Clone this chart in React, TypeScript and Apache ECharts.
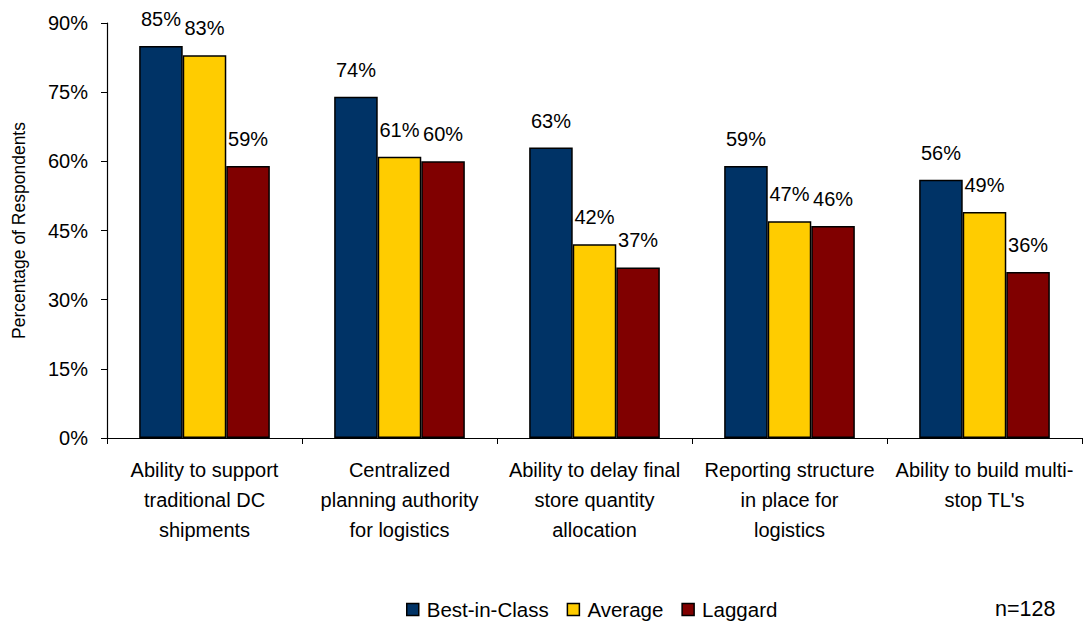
import React, { useEffect, useRef } from "react";
import * as echarts from "echarts";

const categories = [
  "Ability to support\ntraditional DC\nshipments",
  "Centralized\nplanning authority\nfor logistics",
  "Ability to delay final\nstore quantity\nallocation",
  "Reporting structure\nin place for\nlogistics",
  "Ability to build multi-\nstop TL's",
];
const bestInClass = [85, 74, 63, 59, 56];
const average = [83, 61, 42, 47, 49];
const laggard = [59, 60, 37, 46, 36];
const seriesNames = ["Best-in-Class", "Average", "Laggard"];
const colors = ["#003366", "#FFCC00", "#800000"];
const yTicks = [0, 15, 30, 45, 60, 75, 90];

const FONT = "Liberation Sans, Arial, sans-serif";

export default function App() {
  const ref = useRef<HTMLDivElement>(null);
  useEffect(() => {
    if (!ref.current) return;
    const chart = echarts.init(ref.current, undefined, { renderer: "svg" });
    const data = [bestInClass, average, laggard];
    chart.setOption({
      animation: false,
      backgroundColor: "#ffffff",
      textStyle: { fontFamily: FONT },
      grid: { left: 107, right: 3, top: 23, bottom: 185, containLabel: false },
      legend: {
        top: 599,
        left: 406,
        padding: 0,
        itemWidth: 12,
        itemHeight: 12,
        itemGap: 18,
        icon: "rect",
        textStyle: { fontSize: 20.5, color: "#000", fontFamily: FONT, padding: [0, 0, 0, 3] },
        itemStyle: { borderColor: "#000", borderWidth: 1.5 },
        data: seriesNames,
      },
      graphic: [
        {
          type: "text",
          left: 995,
          top: 598,
          style: { text: "n=128", fontSize: 21.5, fill: "#000", fontFamily: FONT },
        },
      ],
      xAxis: {
        type: "category",
        data: categories,
        axisLine: { lineStyle: { color: "#000", width: 1.2 } },
        axisTick: { show: true, length: 6, lineStyle: { color: "#000" } },
        axisLabel: {
          color: "#000",
          fontSize: 20,
          lineHeight: 30,
          margin: 17,
          interval: 0,
          fontFamily: FONT,
        },
      },
      yAxis: {
        type: "value",
        min: yTicks[0],
        max: yTicks[yTicks.length - 1],
        interval: 15,
        name: "Percentage of Respondents",
        nameLocation: "middle",
        nameGap: 79,
        nameTextStyle: { fontSize: 17.5, color: "#000", fontFamily: FONT },
        axisLine: { show: true, lineStyle: { color: "#000", width: 1.2 } },
        axisTick: { show: true, length: 6, lineStyle: { color: "#000" } },
        splitLine: { show: false },
        axisLabel: {
          color: "#000",
          fontSize: 20,
          margin: 19,
          formatter: "{value}%",
          fontFamily: FONT,
        },
      },
      series: data.map((d, i) => ({
        name: seriesNames[i],
        type: "bar",
        data: d,
        barGap: "0%",
        barCategoryGap: "33%",
        itemStyle: { color: colors[i], borderColor: "#000", borderWidth: 1.5 },
        label: {
          show: true,
          position: "top",
          distance: 17,
          formatter: "{c}%",
          fontSize: 20,
          color: "#000",
          fontFamily: FONT,
        },
      })),
    });
    return () => chart.dispose();
  }, []);
  return (
    <div
      ref={ref}
      style={{ position: "absolute", left: 0, top: 0, width: 1085, height: 623 }}
    />
  );
}
